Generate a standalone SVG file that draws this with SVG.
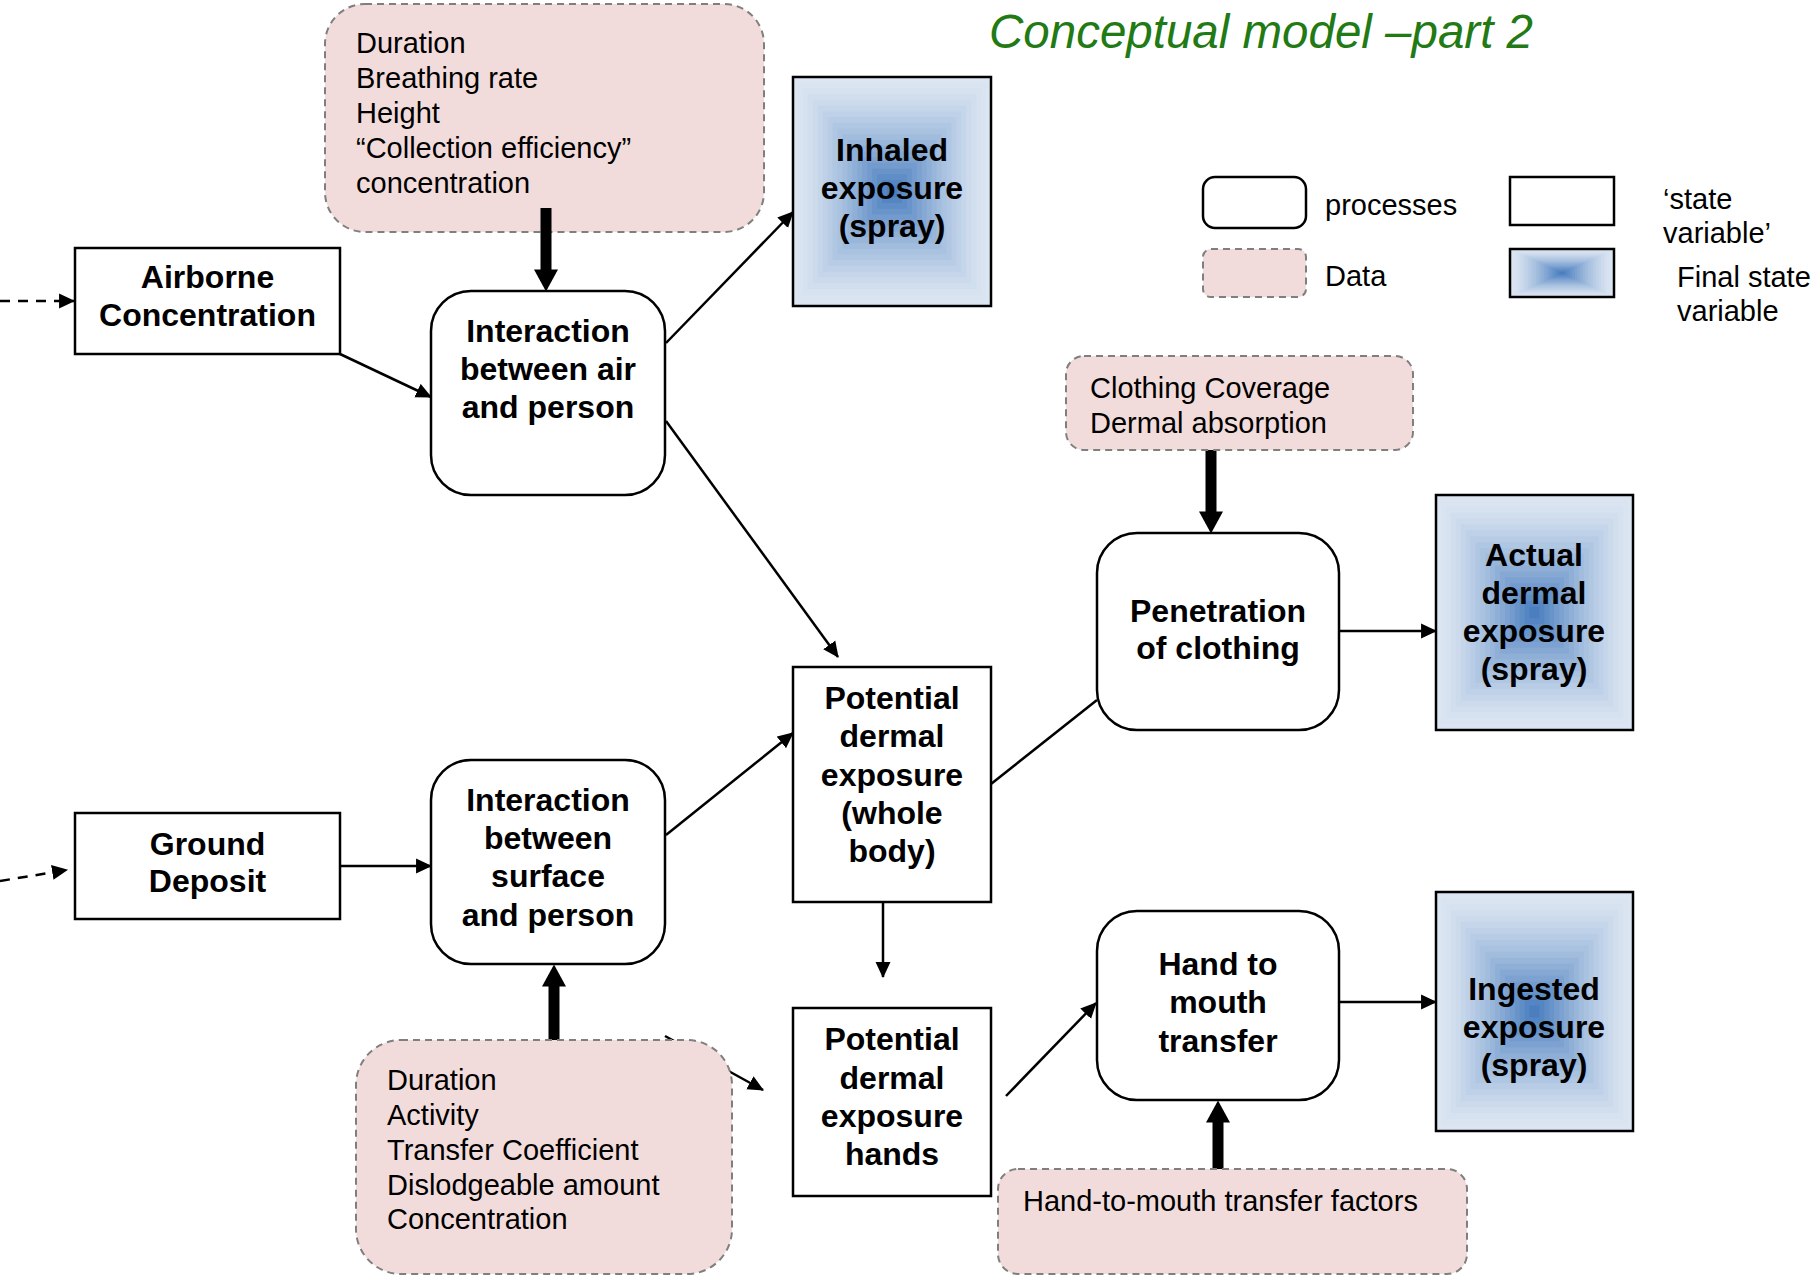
<svg xmlns="http://www.w3.org/2000/svg" width="1814" height="1276" viewBox="0 0 1814 1276">
<style>
  .bg { fill: #ffffff; }
  .proc { fill: #ffffff; stroke: #000; stroke-width: 2.5; }
  .state { fill: #ffffff; stroke: #000; stroke-width: 2.5; }
  .final { fill: none; stroke: #000; stroke-width: 2.5; }
  .data { fill: #F2DCDB; stroke: #7F7F7F; stroke-width: 2; stroke-dasharray: 7 5; }
  .lbl { font-family: "Liberation Sans", Arial, sans-serif; font-weight: bold; font-size: 32px; fill: #000; text-anchor: middle; }
  .dtxt { font-family: "Liberation Sans", Arial, sans-serif; font-size: 29px; fill: #000; }
  .title { font-family: "Liberation Sans", Arial, sans-serif; font-style: italic; font-size: 47.5px; fill: #227A14; }
  .conn { fill: none; stroke: #000; stroke-width: 2.5; marker-end: url(#arr); }
  .dash { fill: none; stroke: #000; stroke-width: 2.5; stroke-dasharray: 10 8; marker-end: url(#arr); }
  .plain { fill: none; stroke: #000; stroke-width: 2.5; }
  .heavy { fill: none; stroke: #000; stroke-width: 11; marker-end: url(#harr); }
</style>
<defs>
  <marker id="arr" markerUnits="userSpaceOnUse" markerWidth="16" markerHeight="16" viewBox="0 0 15 14" refX="14" refY="7" orient="auto">
    <path d="M0,0 L15,7 L0,14 z" fill="#000"/>
  </marker>
  <marker id="harr" markerUnits="userSpaceOnUse" markerWidth="24" markerHeight="24" viewBox="0 0 22 24" refX="0.5" refY="12" orient="auto">
    <path d="M0,0 L22,12 L0,24 z" fill="#000"/>
  </marker>
  <symbol id="grad" viewBox="0 0 100 100" preserveAspectRatio="none">
    <rect x="0" y="0" width="100" height="100" fill="#DCE6F2"/>
    <rect x="2.5" y="2.5" width="95" height="95" fill="#DAE4F1"/>
    <rect x="5" y="5" width="90" height="90" fill="#D6E2F0"/>
    <rect x="7.5" y="7.5" width="85" height="85" fill="#D1DEEE"/>
    <rect x="10" y="10" width="80" height="80" fill="#CCDAEC"/>
    <rect x="12.5" y="12.5" width="75" height="75" fill="#C6D6EA"/>
    <rect x="15" y="15" width="70" height="70" fill="#BFD1E8"/>
    <rect x="17.5" y="17.5" width="65" height="65" fill="#B8CCE5"/>
    <rect x="20" y="20" width="60" height="60" fill="#B0C7E3"/>
    <rect x="22.5" y="22.5" width="55" height="55" fill="#A9C2E0"/>
    <rect x="25" y="25" width="50" height="50" fill="#A1BCDD"/>
    <rect x="27.5" y="27.5" width="45" height="45" fill="#98B6DA"/>
    <rect x="30" y="30" width="40" height="40" fill="#8FAFD7"/>
    <rect x="32.5" y="32.5" width="35" height="35" fill="#86A9D4"/>
    <rect x="35" y="35" width="30" height="30" fill="#7DA2D1"/>
    <rect x="37.5" y="37.5" width="25" height="25" fill="#739BCD"/>
    <rect x="40" y="40" width="20" height="20" fill="#6994CA"/>
    <rect x="42.5" y="42.5" width="15" height="15" fill="#5F8DC6"/>
    <rect x="45" y="45" width="10" height="10" fill="#5586C3"/>
    <rect x="47.5" y="47.5" width="5" height="5" fill="#4A7EBF"/>
  </symbol>
</defs>

<rect class="bg" x="0" y="0" width="1814" height="1276"/>

<text class="title" x="989" y="48">Conceptual model –part 2</text>

<g id="connectors">
  <line class="dash" x1="0" y1="301" x2="74" y2="301"/>
  <line class="dash" x1="0" y1="881" x2="67" y2="870"/>
  <line class="conn" x1="340" y1="354" x2="431" y2="397"/>
  <line class="conn" x1="666" y1="343" x2="793" y2="212"/>
  <line class="conn" x1="666" y1="421" x2="838" y2="657"/>
  <line class="conn" x1="340" y1="866" x2="431" y2="866"/>
  <line class="conn" x1="666" y1="835" x2="793" y2="733"/>
  <line class="plain" x1="991" y1="784" x2="1097" y2="700"/>
  <line class="conn" x1="883" y1="902" x2="883" y2="977"/>
  <line class="conn" x1="1006" y1="1096" x2="1096" y2="1003"/>
  <line class="conn" x1="1339" y1="631" x2="1436" y2="631"/>
  <line class="conn" x1="1339" y1="1002" x2="1436" y2="1002"/>
  <line class="conn" x1="665" y1="1036" x2="763" y2="1090"/>
  <line class="heavy" x1="1211" y1="450" x2="1211" y2="512"/>
  <line class="heavy" x1="554" y1="1040" x2="554" y2="986"/>
  <line class="heavy" x1="1218" y1="1169" x2="1218" y2="1122"/>
</g>

<g id="data-inhalation">
  <rect class="data" x="325" y="4" width="439" height="228" rx="40"/>
  <text class="dtxt" x="356" y="53">Duration</text>
  <text class="dtxt" x="356" y="88">Breathing rate</text>
  <text class="dtxt" x="356" y="123">Height</text>
  <text class="dtxt" x="356" y="158">“Collection efficiency”</text>
  <text class="dtxt" x="356" y="193">concentration</text>
</g>

<g id="connectors-front">
  <line class="heavy" x1="546" y1="208" x2="546" y2="270"/>
</g>

<g id="airborne">
  <rect class="state" x="75" y="248" width="265" height="106"/>
  <text class="lbl" x="207.5" y="288">Airborne</text>
  <text class="lbl" x="207.5" y="326">Concentration</text>
</g>

<g id="interaction-air">
  <rect class="proc" x="431" y="291" width="234" height="204" rx="40"/>
  <text class="lbl" x="548" y="342">Interaction</text>
  <text class="lbl" x="548" y="380">between air</text>
  <text class="lbl" x="548" y="418">and person</text>
</g>

<g id="inhaled">
  <use href="#grad" x="793" y="77" width="198" height="229"/>
  <rect class="final" x="793" y="77" width="198" height="229"/>
  <text class="lbl" x="892" y="161">Inhaled</text>
  <text class="lbl" x="892" y="199">exposure</text>
  <text class="lbl" x="892" y="237">(spray)</text>
</g>

<g id="legend">
  <rect class="proc" x="1203" y="177" width="103" height="51" rx="12"/>
  <text class="dtxt" x="1325" y="215">processes</text>
  <rect class="data" x="1203" y="249" width="103" height="48" rx="8"/>
  <text class="dtxt" x="1325" y="286">Data</text>
  <rect class="state" x="1510" y="177" width="104" height="48"/>
  <text class="dtxt" x="1663" y="209">‘state</text>
  <text class="dtxt" x="1663" y="243">variable’</text>
  <use href="#grad" x="1510" y="249" width="104" height="48"/>
  <rect class="final" x="1510" y="249" width="104" height="48"/>
  <text class="dtxt" x="1677" y="287">Final state</text>
  <text class="dtxt" x="1677" y="321">variable</text>
</g>

<g id="data-clothing">
  <rect class="data" x="1066" y="356" width="347" height="94" rx="18"/>
  <text class="dtxt" x="1090" y="398">Clothing Coverage</text>
  <text class="dtxt" x="1090" y="433">Dermal absorption</text>
</g>

<g id="penetration">
  <rect class="proc" x="1097" y="533" width="242" height="197" rx="40"/>
  <text class="lbl" x="1218" y="622">Penetration</text>
  <text class="lbl" x="1218" y="659">of clothing</text>
</g>

<g id="actual-dermal">
  <use href="#grad" x="1436" y="495" width="197" height="235"/>
  <rect class="final" x="1436" y="495" width="197" height="235"/>
  <text class="lbl" x="1534" y="566">Actual</text>
  <text class="lbl" x="1534" y="604">dermal</text>
  <text class="lbl" x="1534" y="642">exposure</text>
  <text class="lbl" x="1534" y="680">(spray)</text>
</g>

<g id="potential-whole">
  <rect class="state" x="793" y="667" width="198" height="235"/>
  <text class="lbl" x="892" y="709">Potential</text>
  <text class="lbl" x="892" y="747">dermal</text>
  <text class="lbl" x="892" y="786">exposure</text>
  <text class="lbl" x="892" y="824">(whole</text>
  <text class="lbl" x="892" y="862">body)</text>
</g>

<g id="ground">
  <rect class="state" x="75" y="813" width="265" height="106"/>
  <text class="lbl" x="207.5" y="855">Ground</text>
  <text class="lbl" x="207.5" y="892">Deposit</text>
</g>

<g id="interaction-surface">
  <rect class="proc" x="431" y="760" width="234" height="204" rx="40"/>
  <text class="lbl" x="548" y="811">Interaction</text>
  <text class="lbl" x="548" y="849">between</text>
  <text class="lbl" x="548" y="887">surface</text>
  <text class="lbl" x="548" y="926">and person</text>
</g>

<g id="potential-hands">
  <rect class="state" x="793" y="1008" width="198" height="188"/>
  <text class="lbl" x="892" y="1050">Potential</text>
  <text class="lbl" x="892" y="1089">dermal</text>
  <text class="lbl" x="892" y="1127">exposure</text>
  <text class="lbl" x="892" y="1165">hands</text>
</g>

<g id="hand-to-mouth">
  <rect class="proc" x="1097" y="911" width="242" height="189" rx="40"/>
  <text class="lbl" x="1218" y="975">Hand to</text>
  <text class="lbl" x="1218" y="1013">mouth</text>
  <text class="lbl" x="1218" y="1052">transfer</text>
</g>

<g id="ingested">
  <use href="#grad" x="1436" y="892" width="197" height="239"/>
  <rect class="final" x="1436" y="892" width="197" height="239"/>
  <text class="lbl" x="1534" y="1000">Ingested</text>
  <text class="lbl" x="1534" y="1038">exposure</text>
  <text class="lbl" x="1534" y="1076">(spray)</text>
</g>

<g id="data-surface">
  <rect class="data" x="356" y="1040" width="376" height="234" rx="45"/>
  <text class="dtxt" x="387" y="1090">Duration</text>
  <text class="dtxt" x="387" y="1125">Activity</text>
  <text class="dtxt" x="387" y="1160">Transfer Coefficient</text>
  <text class="dtxt" x="387" y="1195">Dislodgeable amount</text>
  <text class="dtxt" x="387" y="1229">Concentration</text>
</g>

<g id="data-hand-to-mouth">
  <rect class="data" x="998" y="1169" width="469" height="105" rx="20"/>
  <text class="dtxt" x="1023" y="1211">Hand-to-mouth transfer factors</text>
</g>
</svg>
